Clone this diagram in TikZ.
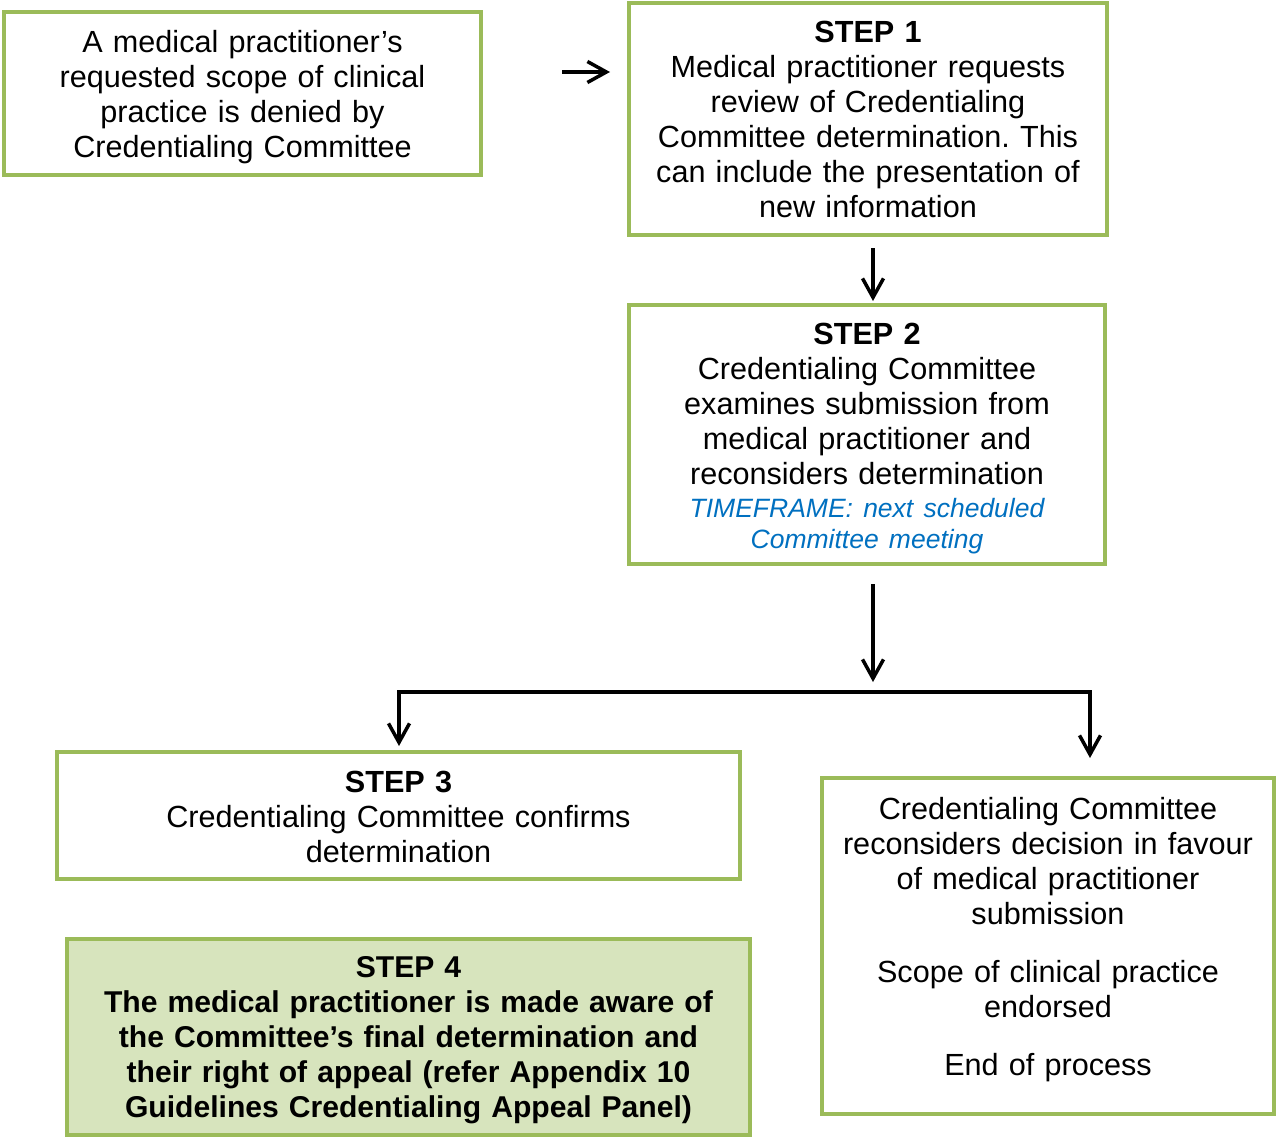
\documentclass[tikz,border=0pt]{standalone}
\usepackage{fontspec}
\setmainfont{Liberation Sans}
\usetikzlibrary{arrows.meta,calc}
\definecolor{boxgreen}{HTML}{9BBB59}
\definecolor{boxfill}{HTML}{D7E4BD}
\definecolor{tfblue}{HTML}{0070C0}
\newcommand\dnshift[1]{\rule{0pt}{\dimexpr 22pt+#1*2\relax}}
\frenchspacing
\begin{document}
\frenchspacing
\begin{tikzpicture}[x=1pt,y=-1pt,
  box/.style={draw=boxgreen,line width=4pt,fill=white,align=center,inner sep=0pt,
    font=\fontsize{30.6}{35}\selectfont\frenchspacing},
  arr/.style={line width=3.5pt,-{Straight Barb[length=19pt,width=21pt]}},
  barr/.style={line width=3.5pt,{Straight Barb[length=19pt,width=21pt]}-{Straight Barb[length=19pt,width=21pt]}}]
\useasboundingbox[fill=white] (0,0) rectangle (1277,1140);

\node[box,minimum width=477pt,minimum height=163pt,text width=460pt] (A) at (242.5,93.5)
  {\dnshift{4pt}A medical practitioner’s\\requested scope of clinical\\practice is denied by\\Credentialing Committee};

\node[box,minimum width=478pt,minimum height=232pt,text width=465pt] (S1) at (868,119)
  {\textbf{STEP 1}\\Medical practitioner requests\\review of Credentialing\\Committee determination. This\\can include the presentation of\\new information};

\node[box,minimum width=476pt,minimum height=259pt,text width=460pt] (S2) at (867,434.5)
  {\dnshift{3.5pt}\textbf{STEP 2}\\Credentialing Committee\\examines submission from\\medical practitioner and\\reconsiders determination\\[-2pt]
   {\color{tfblue}\fontsize{26.5}{31}\selectfont\itshape TIMEFRAME: next scheduled}\\[-4pt]
   {\color{tfblue}\fontsize{26.5}{31}\selectfont\itshape Committee meeting}};

\node[box,minimum width=683pt,minimum height=127pt,text width=660pt] (S3) at (398.5,815.5)
  {\dnshift{1pt}\textbf{STEP 3}\\Credentialing Committee confirms\\determination};

\node[box,fill=boxfill,minimum width=683pt,minimum height=196pt,text width=670pt,
  font=\fontsize{30.1}{35}\selectfont\bfseries\frenchspacing] (S4) at (408.5,1037)
  {\dnshift{3pt}STEP 4\\The medical practitioner is made aware of\\the Committee’s final determination and\\their right of appeal (refer Appendix 10\\Guidelines Credentialing Appeal Panel)};

\node[box,minimum width=452pt,minimum height=336pt,text width=440pt] (R) at (1048,946)
  {Credentialing Committee\\reconsiders decision in favour\\of medical practitioner\\submission\\[23pt]Scope of clinical practice\\endorsed\\[23pt]End of process\rule[-20pt]{0pt}{20pt}};

\coordinate (split) at (873,682);
\coordinate (bl) at (399,692);
\coordinate (br) at (1090,692);

\draw[arr] ([xshift=79pt,yshift=21.5pt]A.east) -- ([xshift=-17pt,yshift=47pt]S1.west);
\draw[arr] ([xshift=5pt,yshift=-11pt]S1.south) -- ([xshift=6pt,yshift=2pt]S2.north);
\draw[arr] ([xshift=6pt,yshift=-18pt]S2.south) -- (split);
\draw[barr] ([yshift=4pt]S3.north -| bl) -- (bl) -- (br) -- ([yshift=18pt]R.north -| br);
\end{tikzpicture}
\end{document}
